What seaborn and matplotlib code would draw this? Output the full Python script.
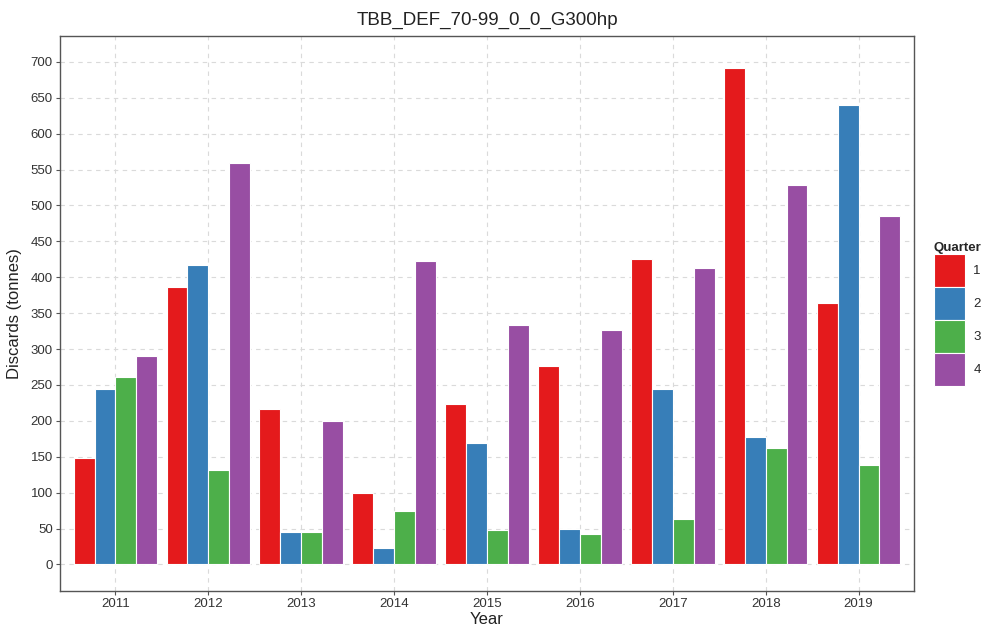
import matplotlib
matplotlib.use("Agg")
import matplotlib.pyplot as plt
import seaborn as sns
import pandas as pd
import numpy as np

years = ["2011", "2012", "2013", "2014", "2015", "2016", "2017", "2018", "2019"]
quarters = ["1", "2", "3", "4"]
q1 = [148, 386, 217, 100, 224, 277, 426, 691, 364]
q2 = [245, 417, 45, 23, 169, 50, 244, 178, 640]
q3 = [261, 131, 45, 75, 48, 43, 64, 162, 138]
q4 = [291, 559, 200, 423, 334, 327, 413, 529, 485]
colors = ["#E41A1C", "#377EB8", "#4DAF4A", "#984EA3"]
yticks = list(range(0, 701, 50))

rows = []
for q, vals in zip(quarters, [q1, q2, q3, q4]):
    for y, v in zip(years, vals):
        rows.append({"Year": y, "Quarter": q, "Discards": v})
df = pd.DataFrame(rows)

sns.set_theme(style="white")
plt.rcParams["font.family"] = ["Liberation Sans", "DejaVu Sans"]

fig = plt.figure(figsize=(9.9, 6.28), dpi=100)
ax = fig.add_axes([0.0603, 0.0594, 0.9235 - 0.0603, 0.9427 - 0.0594])

sns.barplot(data=df, x="Year", y="Discards", hue="Quarter", order=years,
            hue_order=quarters, palette=colors, width=0.9, ax=ax,
            edgecolor="white", linewidth=0.8, saturation=1, errorbar=None,
            zorder=3)

ax.set_xlim(-0.6, 8.6)
ax.set_ylim(-36.5, 736)
ax.set_yticks(yticks)
ax.set_yticklabels([str(t) for t in yticks])
ax.grid(True, which="major", linestyle=(0, (4, 4)), color="#DADADA", linewidth=0.8, zorder=0)
ax.set_axisbelow(True)
for s in ax.spines.values():
    s.set_color("#555555")
    s.set_linewidth(1.0)
ax.tick_params(axis="both", which="major", length=3, width=0.8, color="#555555",
               labelsize=9.5, labelcolor="#333333", pad=2, direction="out",
               bottom=True, left=True)
ax.set_xlabel("Year", fontsize=12, color="#222222", labelpad=2)
ax.set_ylabel("Discards (tonnes)", fontsize=12, color="#222222", labelpad=6)
ax.set_title("TBB_DEF_70-99_0_0_G300hp", fontsize=13.5, color="#222222", pad=8)

handles, labels = ax.get_legend_handles_labels()
ax.get_legend().remove()
leg = fig.legend(handles, labels, title="Quarter", loc="center left",
                 bbox_to_anchor=(0.9365, 0.5), frameon=False, fontsize=9.5,
                 title_fontsize=9.5, handlelength=2.4, handleheight=3.45,
                 labelspacing=0.0, handletextpad=0.6, borderpad=0)
leg.get_title().set_fontweight("bold")
leg._legend_box.align = "left"

fig.savefig("out.png", dpi=100)
